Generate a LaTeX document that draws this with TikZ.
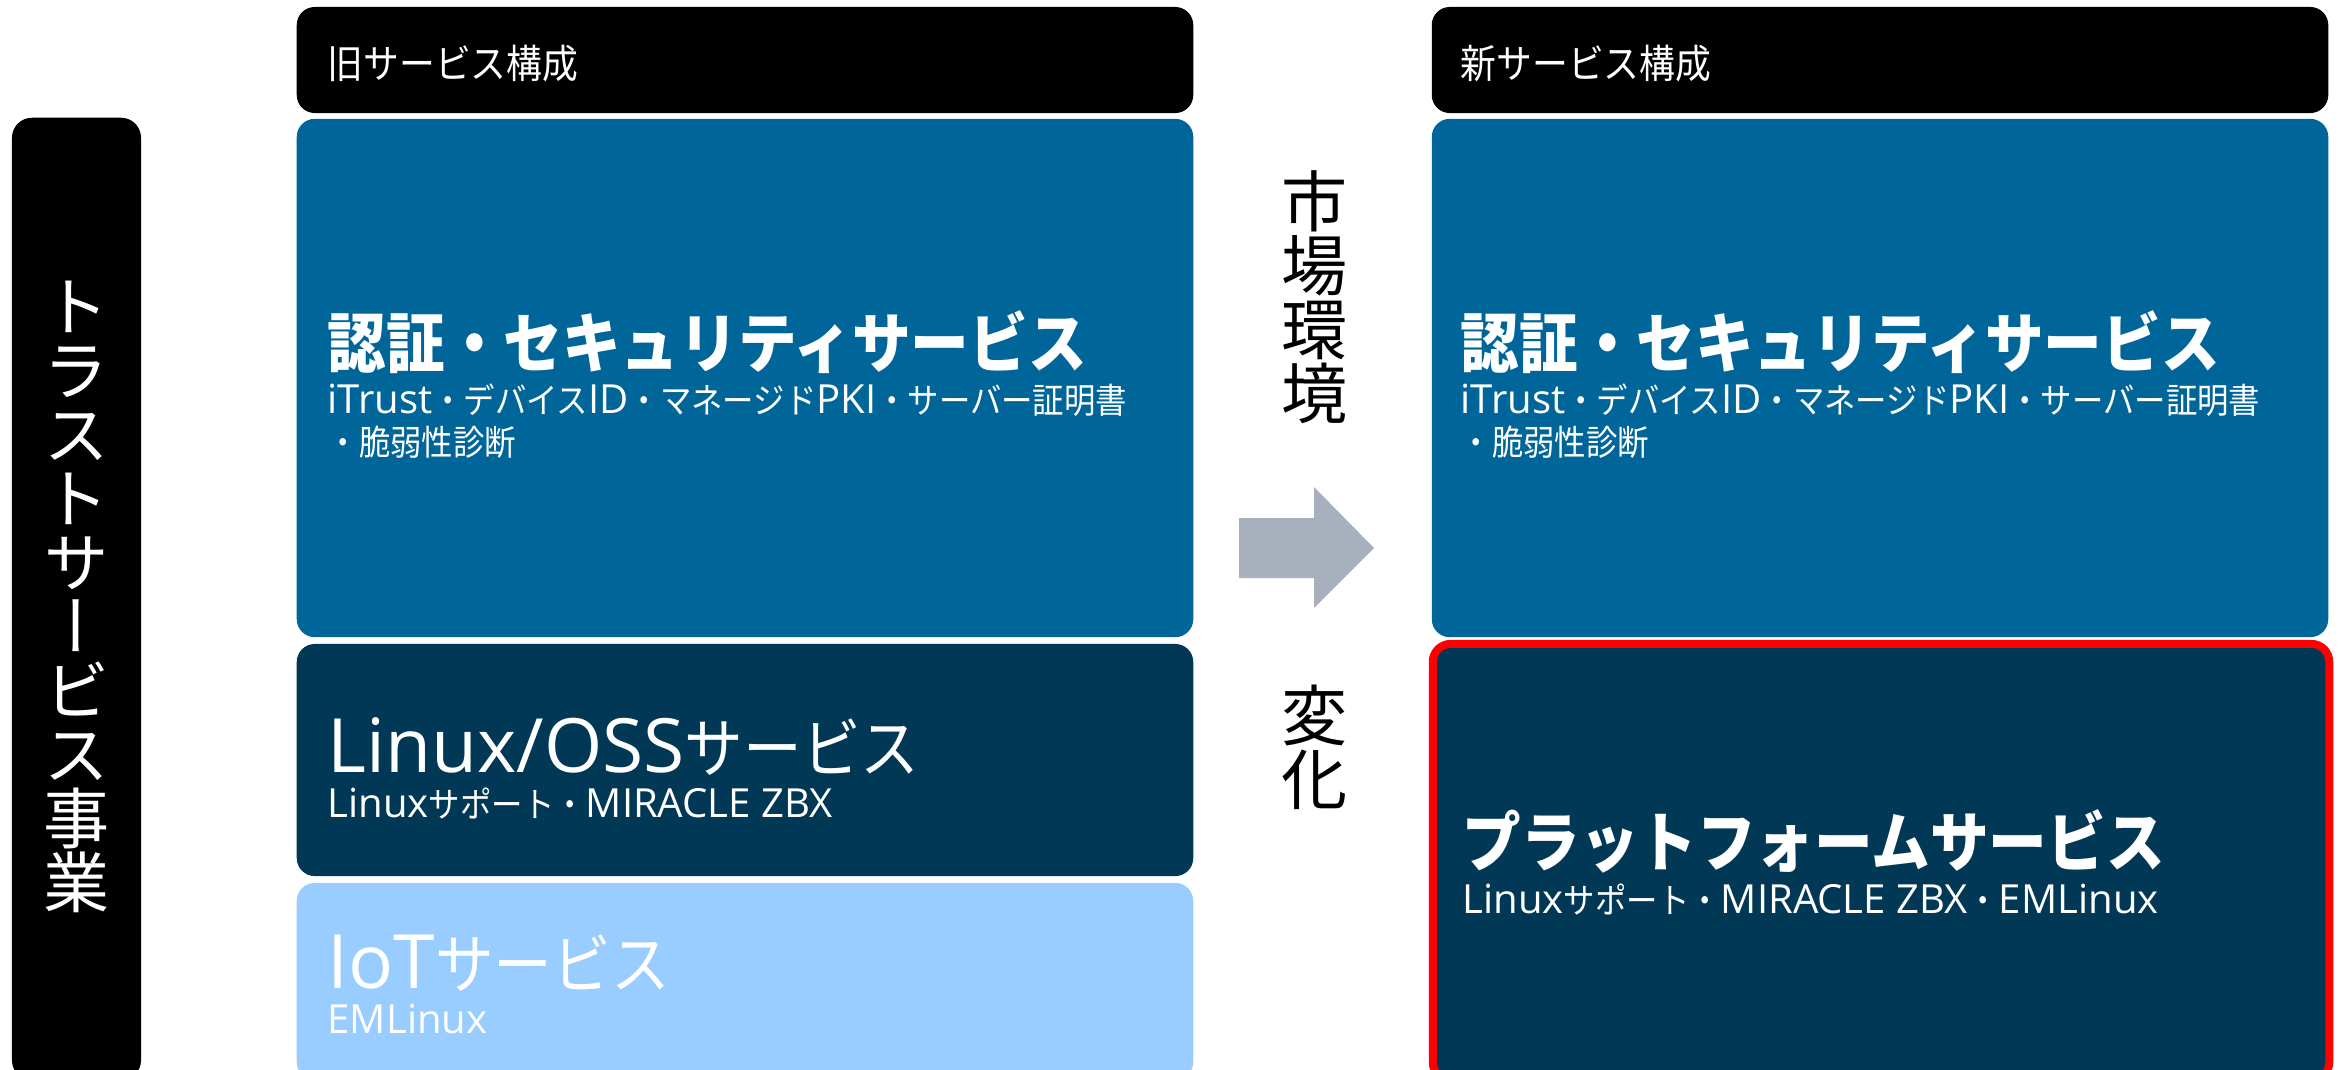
\documentclass[tikz,border=0pt]{standalone}
\usepackage{fontspec}
\setmainfont{Open Sans}
\newfontfamily\jp[Scale=0.87,FakeStretch=0.9]{Noto Sans CJK JP}
\newfontfamily\jpv[RawFeature=+vert]{Noto Sans CJK JP}
\newcommand{\J}[1]{{\jp #1}}
\definecolor{secblue}{RGB}{0,102,153}
\definecolor{ossnavy}{RGB}{0,56,86}
\definecolor{iotblue}{RGB}{153,204,255}
\definecolor{shiftgray}{RGB}{168,176,189}
\usetikzlibrary{positioning}

\begin{document}
\begin{tikzpicture}[x=0.01cm, y=-0.01cm,
    panel/.style={rectangle, rounded corners=0.18cm, inner sep=0pt, outer sep=0pt, minimum width=8.96cm},
    headtxt/.style={anchor=base west, text=white, inner sep=0pt, font=\fontsize{13}{15.6}\selectfont},
    titletxt/.style={anchor=base west, text=white, inner sep=0pt, font=\fontsize{21.3}{25.6}\selectfont},
    subtxt/.style={anchor=base west, text=white, inner sep=0pt, font=\fontsize{11.4}{13.7}\selectfont},
    vtxt/.style={align=center, inner sep=0pt, font=\jpv\fontsize{18.8}{18.2}\selectfont}]

    % page frame
    \useasboundingbox (0,0) rectangle (2343,1069);

    % business bar on the left
    \node[panel, fill=black, minimum width=1.29cm, minimum height=9.62cm, rounded corners=0.2cm] (trust) at (76.5,599) {};
    \node[vtxt, text=white] (trusttxt) at (76.5,597) {ト\\ラ\\ス\\ト\\サ\\ー\\ビ\\ス\\事\\業};

    % old service lineup
    \node[panel, fill=black, minimum height=1.06cm] (oldhead) at (745,60) {};
    \node[headtxt] (oldheadtxt) at (327,78) {\J{旧サービス構成}};

    \node[panel, fill=secblue, minimum height=5.18cm] (oldsec) at (745,378) {};
    \node[titletxt] (oldsectitle) at (327,367) {\bfseries\J{認証・セキュリティサービス}};
    \node[subtxt] (oldsecsub) at (327,413) {iTrust\J{・デバイス}ID\J{・マネージド}PKI\J{・サーバー証明書}};
    \node[subtxt] (oldsecsubb) at (327,455) {\J{・脆弱性診断}};

    \node[panel, fill=ossnavy, minimum height=2.32cm] (oldoss) at (745,760) {};
    \node[titletxt] (oldosstitle) at (327,772) {Linux/OSS\J{サービス}};
    \node[subtxt] (oldosssub) at (327,817) {Linux\J{サポート・}MIRACLE ZBX};

    \node[panel, fill=iotblue, minimum height=1.97cm] (oldiot) at (745,981.5) {};
    \node[titletxt] (oldiottitle) at (327,988) {IoT\J{サービス}};
    \node[subtxt] (oldiotsub) at (327,1033) {EMLinux};

    % market change
    \node[vtxt] (market) at (1315,297) {市\\場\\環\\境};
    \fill[shiftgray] (1239,518) -- (1314,518) -- (1314,487) -- (1374,548) -- (1314,608) -- (1314,578) -- (1239,578) -- cycle;
    \node[vtxt] (change) at (1315,747) {変\\化};

    % new service lineup
    \node[panel, fill=black, minimum height=1.06cm] (newhead) at (1880,60) {};
    \node[headtxt] (newheadtxt) at (1460,78) {\J{新サービス構成}};

    \node[panel, fill=secblue, minimum height=5.18cm] (newsec) at (1880,378) {};
    \node[titletxt] (newsectitle) at (1460,367) {\bfseries\J{認証・セキュリティサービス}};
    \node[subtxt] (newsecsub) at (1460,413) {iTrust\J{・デバイス}ID\J{・マネージド}PKI\J{・サーバー証明書}};
    \node[subtxt] (newsecsubb) at (1460,455) {\J{・脆弱性診断}};

    \node[panel, fill=ossnavy, draw=red, line width=0.08cm, minimum height=4.36cm] (newplat) at (1881,862) {};
    \node[titletxt] (newplattitle) at (1462,866) {\bfseries\J{プラットフォームサービス}};
    \node[subtxt] (newplatsub) at (1462,913) {Linux\J{サポート・}MIRACLE ZBX\J{・}EMLinux};
\end{tikzpicture}
\end{document}
